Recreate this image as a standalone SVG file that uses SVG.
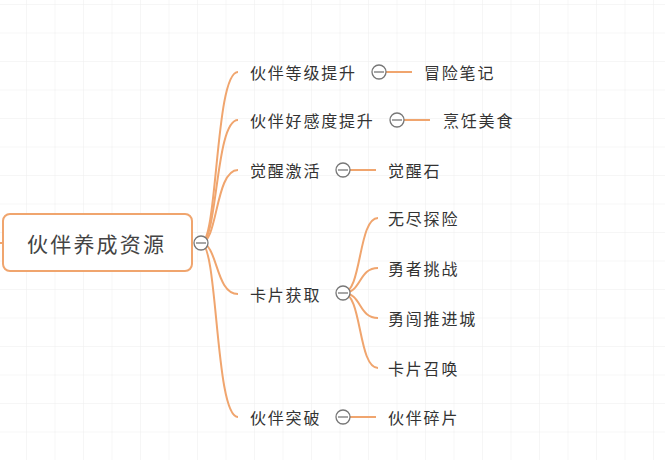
<svg xmlns="http://www.w3.org/2000/svg" width="665" height="460" viewBox="0 0 665 460">
<defs>
<pattern id="g" width="28.5" height="28.5" patternUnits="userSpaceOnUse" x="-1.5" y="5">
<path d="M28.5 0V28.5M0 28.5H28.5" fill="none" stroke="#eeeeee" stroke-width="1"/>
</pattern>
</defs>
<style>
.t{font-family:"Noto Sans CJK SC","Liberation Sans",sans-serif;font-size:16px;letter-spacing:1.8px;fill:#333;dominant-baseline:central}
.c{fill:#fff;stroke:#777;stroke-width:1.3}
.l{fill:none;stroke:#f0a56e;stroke-width:2}
</style>
<rect width="665" height="460" fill="#fff"/>
<rect width="665" height="460" fill="url(#g)"/>
<g id="connectors">
<path class="l" d="M0 243H3"/>
<path class="l" d="M201 243C218 243 215 72 238 72"/>
<path class="l" d="M201 243C218 243 215 120 238 120"/>
<path class="l" d="M201 243C218 243 215 170 238 170"/>
<path class="l" d="M201 243C218 243 215 294 238 294"/>
<path class="l" d="M201 243C218 243 215 417 238 417"/>
<path class="l" d="M386 72H412"/>
<path class="l" d="M404 120H430"/>
<path class="l" d="M350 170H376"/>
<path class="l" d="M350 417H376"/>
<path class="l" d="M343 293C362 293 358 218 378 218"/>
<path class="l" d="M343 293C362 293 358 268 378 268"/>
<path class="l" d="M343 293C362 293 358 318 378 318"/>
<path class="l" d="M343 293C362 293 358 368 378 368"/>
</g>
<g id="root">
<rect x="3" y="214" width="189" height="57" rx="7" fill="#fff" stroke="#f0a56e" stroke-width="2"/>
<text class="t" x="27" y="243" style="font-size:21px;letter-spacing:2.2px;fill:#444">伙伴养成资源</text>
<circle class="c" cx="201" cy="243" r="7"/><path d="M196 243H206" stroke="#777" stroke-width="1.3"/>
</g>
<g id="n1"><text class="t" x="250" y="72">伙伴等级提升</text><circle class="c" cx="379" cy="72" r="7"/><path d="M374 72H384" stroke="#777" stroke-width="1.3"/></g>
<g id="n2"><text class="t" x="250" y="120">伙伴好感度提升</text><circle class="c" cx="397" cy="120" r="7"/><path d="M392 120H402" stroke="#777" stroke-width="1.3"/></g>
<g id="n3"><text class="t" x="250" y="170">觉醒激活</text><circle class="c" cx="343" cy="170" r="7"/><path d="M338 170H348" stroke="#777" stroke-width="1.3"/></g>
<g id="n4"><text class="t" x="250" y="294">卡片获取</text><circle class="c" cx="343" cy="293" r="7"/><path d="M338 293H348" stroke="#777" stroke-width="1.3"/></g>
<g id="n5"><text class="t" x="250" y="417">伙伴突破</text><circle class="c" cx="343" cy="417" r="7"/><path d="M338 417H348" stroke="#777" stroke-width="1.3"/></g>
<g id="l1"><text class="t" x="424" y="72">冒险笔记</text></g>
<g id="l2"><text class="t" x="443" y="120">烹饪美食</text></g>
<g id="l3"><text class="t" x="388" y="170">觉醒石</text></g>
<g id="l4"><text class="t" x="388" y="218">无尽探险</text></g>
<g id="l5"><text class="t" x="388" y="268">勇者挑战</text></g>
<g id="l6"><text class="t" x="388" y="318">勇闯推进城</text></g>
<g id="l7"><text class="t" x="388" y="368">卡片召唤</text></g>
<g id="l8"><text class="t" x="388" y="417">伙伴碎片</text></g>
</svg>
